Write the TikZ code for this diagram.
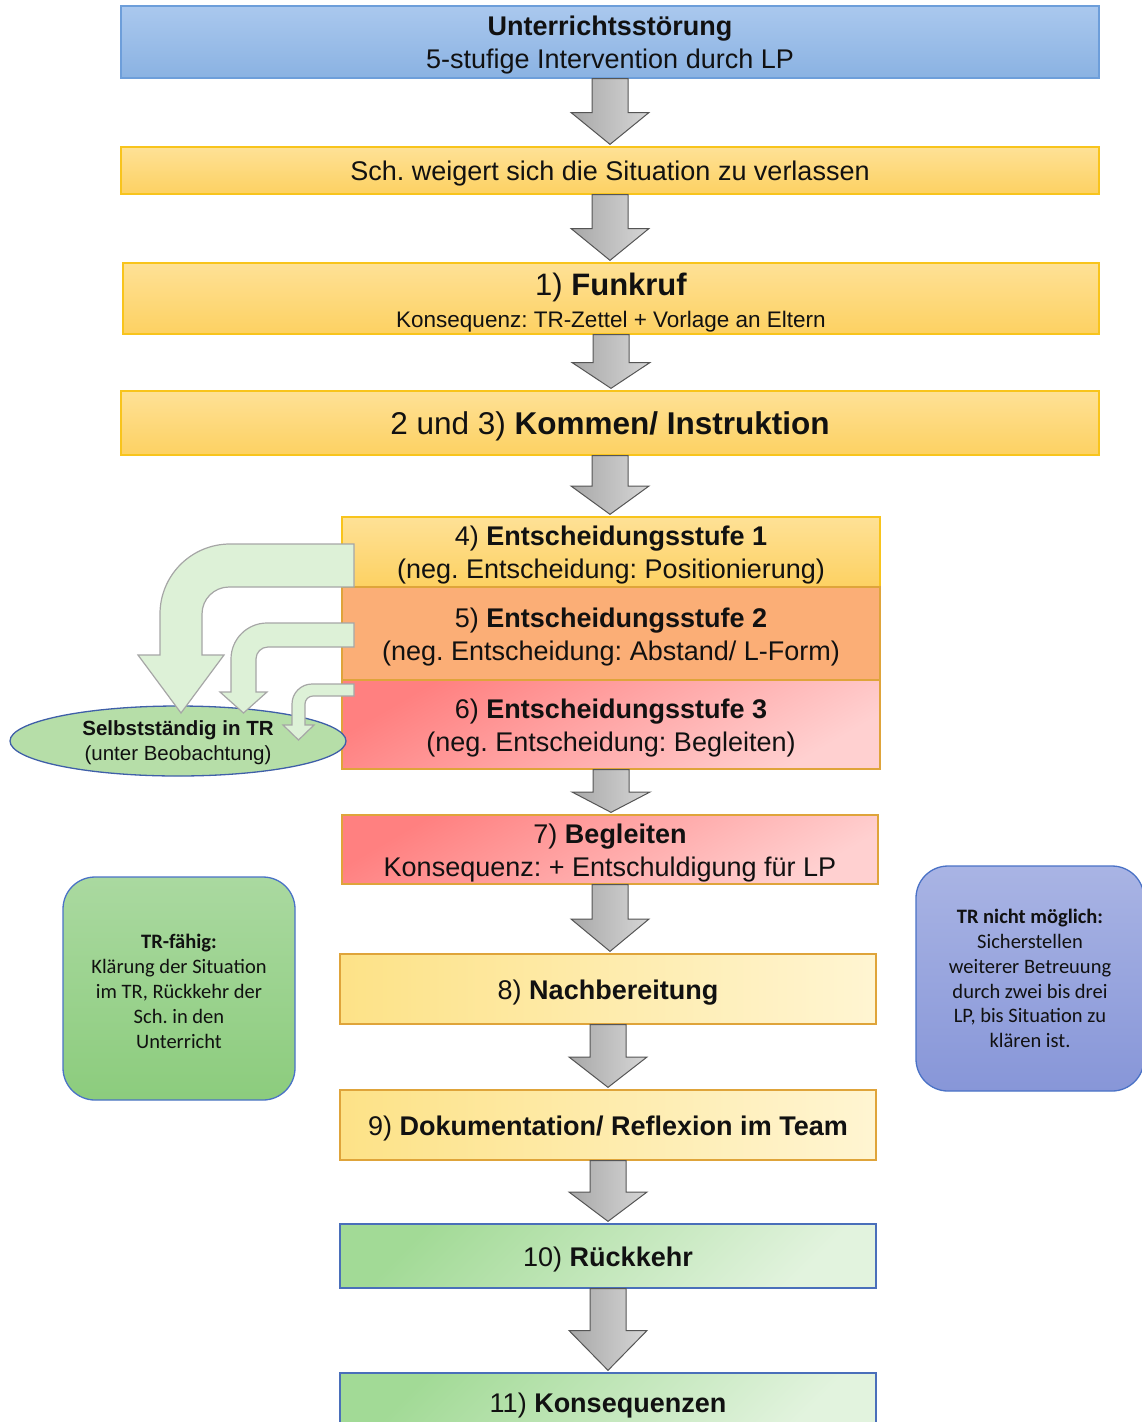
\documentclass[tikz,border=0pt]{standalone}
\usepackage{fontspec}
\setmainfont{Liberation Sans}
\newfontfamily\carlito{Carlito}
\usetikzlibrary{shapes.geometric,calc}
\frenchspacing
\newcommand\tstrut[1]{\rule{0pt}{#1}}
\definecolor{blueTop}{HTML}{AAC8EE}
\definecolor{blueBot}{HTML}{8AB2E2}
\definecolor{blueBd}{HTML}{6D9EDA}
\definecolor{yelTop}{HTML}{FEE196}
\definecolor{yelBot}{HTML}{FDD162}
\definecolor{yelBd}{HTML}{F8C41C}
\definecolor{orgFill}{HTML}{FBAE76}
\definecolor{goldBd}{HTML}{DFA43A}
\definecolor{redA}{HTML}{FF8080}
\definecolor{redB}{HTML}{FFD0D0}
\definecolor{lyA}{HTML}{FDE287}
\definecolor{lyB}{HTML}{FFF5D2}
\definecolor{grA}{HTML}{A2DA96}
\definecolor{grB}{HTML}{E2F3DE}
\definecolor{grBd}{HTML}{4A6FBA}
\definecolor{ellFill}{HTML}{B6DEA8}
\definecolor{ellBd}{HTML}{3F5FA8}
\definecolor{bentFill}{HTML}{DDF1D7}
\definecolor{bentBd}{HTML}{A6A6A6}
\definecolor{sgA}{HTML}{AAD9A0}
\definecolor{sgB}{HTML}{8CCC7D}
\definecolor{sbA}{HTML}{A9B4E4}
\definecolor{sbB}{HTML}{8796D8}
\definecolor{sideBd}{HTML}{4A72C6}
\definecolor{arrA}{HTML}{A8A8A8}
\definecolor{arrB}{HTML}{D6D6D6}
\definecolor{arrBd}{HTML}{555555}
\definecolor{txt}{HTML}{111111}
\tikzset{
  flowbox/.style={rectangle, inner sep=0pt, line width=1.3pt, align=center, text=txt,
    font=\fontsize{27}{33}\selectfont},
  bluebox/.style={flowbox, draw=blueBd, top color=blueTop, bottom color=blueBot},
  yelbox/.style={flowbox, draw=yelBd, top color=yelTop, bottom color=yelBot},
  orgbox/.style={flowbox, draw=goldBd, fill=orgFill},
  redbox/.style={flowbox, draw=goldBd, top color=redA, bottom color=redB, shading angle=30},
  lybox/.style={flowbox, draw=goldBd, left color=lyA, right color=lyB},
  grbox/.style={flowbox, draw=grBd, top color=grA, bottom color=grB, shading angle=45},
  sidebox/.style={rectangle, rounded corners=32pt, inner sep=0pt, line width=1.3pt, draw=sideBd,
    align=center, text=txt, font=\carlito\fontsize{20.5}{24.8}\selectfont},
  blockarr/.style={draw=arrBd, line width=1pt, left color=arrA, right color=arrB, line join=miter},
  bentarr/.style={draw=bentBd, line width=1.2pt, fill=bentFill, line join=miter},
}
\newcommand\blockarrow[2]{%
  \path[blockarr] let \p1=(#1.south), \p2=(#2.north), \n1={\y1-\y2} in
    ({\x1-18pt},\y1) -- ({\x1+18pt},\y1) -- ({\x1+18pt},{\y1-0.5*\n1*1pt})
    -- ({\x1+39pt},{\y1-0.5*\n1*1pt}) -- (\x1,{\y2+2pt})
    -- ({\x1-39pt},{\y1-0.5*\n1*1pt}) -- ({\x1-18pt},{\y1-0.5*\n1*1pt}) -- cycle;}
\begin{document}
\begin{tikzpicture}[x=1pt,y=1pt]
\useasboundingbox (0,0) rectangle (1142,-1422);
\clip (0,0) rectangle (1142,-1422);

% main flow
\node[bluebox, minimum width=978pt, minimum height=72pt] (top) at (610,-42)
  {\tstrut{25.5pt}\textbf{Unterrichtsstörung}\\5-stufige Intervention durch LP};
\node[yelbox, minimum width=978pt, minimum height=47pt] (sch) at (610,-170.5)
  {\tstrut{26.5pt}Sch. weigert sich die Situation zu verlassen};
\node[yelbox, minimum width=976pt, minimum height=71pt] (funk) at (611,-298.5)
  {{\fontsize{31}{31}\selectfont\tstrut{31pt}1) \textbf{Funkruf}}\\[-1pt]{\fontsize{22.5}{26}\selectfont Konsequenz: TR-Zettel + Vorlage an Eltern}};
\node[yelbox, minimum width=978pt, minimum height=64pt, font=\fontsize{31.5}{36}\selectfont] (komm) at (610,-423)
  {\tstrut{30.5pt}2 und 3) \textbf{Kommen/ Instruktion}};
\node[yelbox, minimum width=538pt, minimum height=70pt] (e1) at (611,-552)
  {\tstrut{26pt}4) \textbf{Entscheidungsstufe 1}\\(neg. Entscheidung: Positionierung)};
\node[orgbox, minimum width=538pt, minimum height=93pt] (e2) at (611,-633.5)
  {\tstrut{26pt}5) \textbf{Entscheidungsstufe 2}\\(neg. Entscheidung: Abstand/ L-Form)};
\node[redbox, minimum width=538pt, minimum height=89pt] (e3) at (611,-724.5)
  {\tstrut{26pt}6) \textbf{Entscheidungsstufe 3}\\(neg. Entscheidung: Begleiten)};
\node[redbox, minimum width=536pt, minimum height=69pt] (beg) at (610,-849.5)
  {\tstrut{26pt}7) \textbf{Begleiten}\\Konsequenz: + Entschuldigung für LP};
\node[lybox, minimum width=536pt, minimum height=70pt] (nach) at (608,-989)
  {\tstrut{26.5pt}8) \textbf{Nachbereitung}};
\node[lybox, minimum width=536pt, minimum height=70pt] (doku) at (608,-1125)
  {\tstrut{26.5pt}9) \textbf{Dokumentation/ Reflexion im Team}};
\node[grbox, minimum width=536pt, minimum height=64pt] (rueck) at (608,-1256)
  {\tstrut{26.5pt}10) \textbf{Rückkehr}};
\node[grbox, minimum width=536pt, minimum height=58pt] (kons) at (608,-1402)
  {\tstrut{26.5pt}11) \textbf{Konsequenzen}};

% block arrows
\blockarrow{top}{sch}
\blockarrow{sch}{funk}
\blockarrow{funk}{komm}
\blockarrow{komm}{e1}
\blockarrow{e3}{beg}
\blockarrow{beg}{nach}
\blockarrow{nach}{doku}
\blockarrow{doku}{rueck}
\blockarrow{rueck}{kons}

% side boxes
\node[sidebox, top color=sgA, bottom color=sgB, minimum width=232pt, minimum height=223pt] (trf) at (179,-988.5)
  {\tstrut{20pt}\textbf{TR-fähig:}\\Klärung der Situation\\im TR, Rückkehr der\\Sch. in den\\Unterricht};
\node[sidebox, top color=sbA, bottom color=sbB, minimum width=228pt, minimum height=225pt] (trn) at (1030,-978.5)
  {\textbf{TR nicht möglich:}\\Sicherstellen\\weiterer Betreuung\\durch zwei bis drei\\LP, bis Situation zu\\klären ist.};

% ellipse
\node[ellipse, draw=ellBd, line width=1.3pt, fill=ellFill, minimum width=336pt, minimum height=70pt,
  inner sep=0pt, align=center, text=txt, font=\fontsize{20.5}{25}\selectfont] (tr) at (178,-741)
  {\tstrut{19pt}\textbf{Selbstständig in TR}\\(unter Beobachtung)};

% bent arrows from decision stages to ellipse
\path[bentarr] (354,-544) -- (230,-544) arc[start angle=90,end angle=180,radius=70]
  -- (160,-655) -- (138,-655) -- (181,-713) -- (224,-655) -- (202,-655) -- (202,-614)
  arc[start angle=180,end angle=90,radius=27] -- (354,-587) -- cycle;
\path[bentarr] (354,-623) -- (267,-623) arc[start angle=90,end angle=180,radius=36]
  -- (231,-692) -- (220,-692) -- (243.5,-713) -- (267,-692) -- (256,-692) -- (256,-659)
  arc[start angle=180,end angle=90,radius=12] -- (354,-647) -- cycle;
\path[bentarr] (354,-684) -- (312,-684) arc[start angle=90,end angle=180,radius=20]
  -- (292,-725) -- (283,-725) -- (298.5,-740) -- (314,-725) -- (305,-725) -- (305,-704)
  arc[start angle=180,end angle=90,radius=8] -- (354,-696) -- cycle;
\end{tikzpicture}
\end{document}
